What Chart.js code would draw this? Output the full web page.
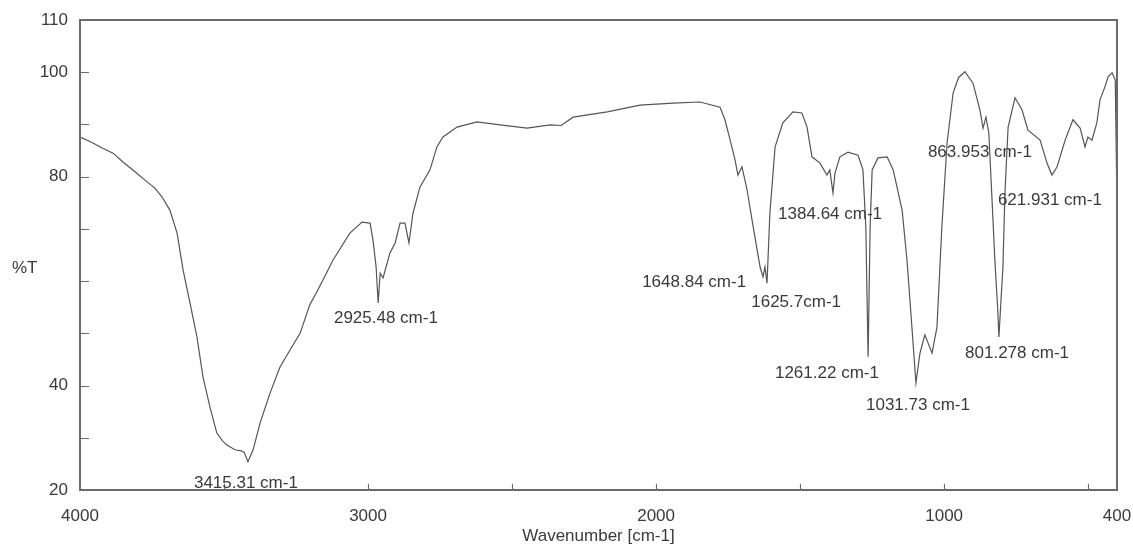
<!DOCTYPE html>
<html><head><meta charset="utf-8">
<script src="https://cdn.jsdelivr.net/npm/chart.js@4/dist/chart.umd.min.js"></script>
<style>html,body{margin:0;padding:0;background:#fff;}#wrap{width:1133px;height:547px;}</style>
</head><body><div id="wrap"><canvas id="c" width="1133" height="547"></canvas></div>
<script>
const wavenumbers = [4000,3960,3920,3885,3851,3810,3767,3740,3715,3688,3663,3642,3618,3594,3573,3549,3525,3505,3490,3462,3440,3430,3417,3399,3375,3340,3306,3271,3236,3202,3177,3122,3063,3021,2993,2983,2972,2965,2958,2948,2924,2906,2889,2872,2858,2844,2820,2785,2761,2740,2691,2622,2542,2448,2368,2330,2288,2170,2056,1941,1848,1778,1761,1743,1726,1716,1702,1684,1663,1639,1629,1622,1615,1605,1587,1560,1525,1494,1476,1459,1431,1407,1397,1386,1379,1362,1334,1299,1282,1272,1264,1257,1250,1230,1198,1177,1146,1129,1112,1098,1084,1067,1042,1025,1008,990,969,950,928,900,876,865,855,845,835,824,814,810,800,796,789,778,754,730,709,667,643,626,608,580,553,528,511,501,487,470,459,442,431,417,406,401];
const transmittance = [87.6,86.6,85.4,84.5,82.8,81.0,79.0,77.8,76.1,73.6,69.2,62.1,55.8,49.3,41.6,35.9,30.9,29.4,28.6,27.7,27.5,27.2,25.4,27.7,32.8,38.6,43.5,46.8,50.0,55.5,58.0,64.0,69.2,71.3,71.1,67.9,62.7,55.8,61.5,60.6,65.4,67.3,71.1,71.1,67.3,73.0,78.0,81.3,85.7,87.6,89.5,90.5,89.9,89.3,89.9,89.8,91.4,92.4,93.7,94.1,94.3,93.3,90.9,87.0,83.2,80.3,81.9,77.4,70.4,62.7,60.8,62.7,59.6,73.0,85.7,90.3,92.4,92.2,89.5,83.8,82.6,80.3,81.3,76.9,80.7,83.8,84.7,84.1,81.3,70.4,45.5,70.4,81.3,83.6,83.8,81.3,73.6,64.0,51.2,40.5,46.2,49.7,46.2,51.2,70.4,86.4,96.0,99.0,100.1,97.9,92.8,89.3,91.4,88.4,76.9,64.0,54.5,49.3,58.9,62.7,76.9,89.5,95.1,92.8,88.9,87.0,82.6,80.3,81.9,87.0,90.9,89.3,85.7,87.6,87.0,90.3,94.7,97.2,99.1,99.9,98.5,78.0];
const xTicks = [4000,3500,3000,2500,2000,1500,1000,500,400];
const xTickLabels = {4000:'4000',3000:'3000',2000:'2000',1000:'1000',400:'400'};
const yTicks = [20,30,40,50,60,70,80,90,100,110];
const yTickLabels = {20:'20',40:'40',80:'80',100:'100',110:'110'};
const peakLabels = ['3415.31 cm-1','2925.48 cm-1','1648.84 cm-1','1625.7cm-1','1384.64 cm-1','1261.22 cm-1','1031.73 cm-1','801.278 cm-1','863.953 cm-1','621.931 cm-1'];
const peakLabelX = [3424,2938,1868,1514,1396,1407,1091,747,876,633];
const peakLabelY = [21.3,52.9,59.8,56.0,72.7,42.4,36.3,46.2,84.7,75.5];

const FONT = 'Liberation Sans, Arial, sans-serif';
const TXT = '#3a3a3a';
const AX = '#6a6a6a';

const frame = {
  id:'frame',
  afterDraw(chart){
    const {ctx, chartArea:a, scales:{x,y}} = chart;
    ctx.save();
    ctx.strokeStyle = AX; ctx.lineWidth = 2;
    ctx.strokeRect(a.left, a.top, a.right-a.left, a.bottom-a.top);
    ctx.lineWidth = 1.2;
    ctx.beginPath();
    xTicks.forEach(v=>{ if(v===4000||v===400) return; const px=Math.round(x.getPixelForValue(v))+0.5; ctx.moveTo(px,a.bottom); ctx.lineTo(px,a.bottom-6); });
    yTicks.forEach(v=>{ if(v===20||v===110) return; const py=Math.round(y.getPixelForValue(v))+0.5; ctx.moveTo(a.left,py); ctx.lineTo(a.left+9,py); });
    ctx.stroke();
    ctx.fillStyle = TXT;
    ctx.font = '17px ' + FONT;
    ctx.textAlign = 'center'; ctx.textBaseline = 'middle';
    peakLabels.forEach((t,i)=>{
      ctx.fillText(t, x.getPixelForValue(peakLabelX[i]), y.getPixelForValue(peakLabelY[i]));
    });
    ctx.textAlign = 'left';
    ctx.fillText('%T', 12, y.getPixelForValue(62.5));
    ctx.restore();
  }
};

new Chart(document.getElementById('c'), {
  type:'scatter',
  data:{datasets:[{
    data: wavenumbers.map((w,i)=>({x:w,y:transmittance[i]})),
    showLine:true, borderColor:'#555', borderWidth:1.2, pointRadius:0, tension:0
  }]},
  options:{
    responsive:false, animation:false,
    layout:{padding:{top:20,right:4,left:0,bottom:0}},
    plugins:{legend:{display:false},tooltip:{enabled:false}},
    scales:{
      x:{type:'linear', reverse:true, min:400, max:4000,
        afterBuildTicks(s){ s.ticks = xTicks.map(v=>({value:v})); },
        afterFit(s){ s.height = 57; s.paddingRight = 16; s.paddingLeft = 0; },
        grid:{display:false}, border:{display:false},
        ticks:{autoSkip:false, maxRotation:0, padding:8, color:TXT, font:{family:FONT,size:17},
          callback:(v)=> xTickLabels[v] || ''},
        title:{display:true, text:'Wavenumber [cm-1]', color:TXT, font:{family:FONT,size:17}, padding:{top:2,bottom:0}}
      },
      y:{type:'linear', min:20, max:110,
        afterBuildTicks(s){ s.ticks = yTicks.map(v=>({value:v})); },
        afterFit(s){ s.width = 80; },
        grid:{display:false}, border:{display:false},
        ticks:{autoSkip:false, padding:4, color:TXT, font:{family:FONT,size:17},
          callback:(v)=> yTickLabels[v] || ''}
      }
    }
  },
  plugins:[frame]
});
</script></body></html>
